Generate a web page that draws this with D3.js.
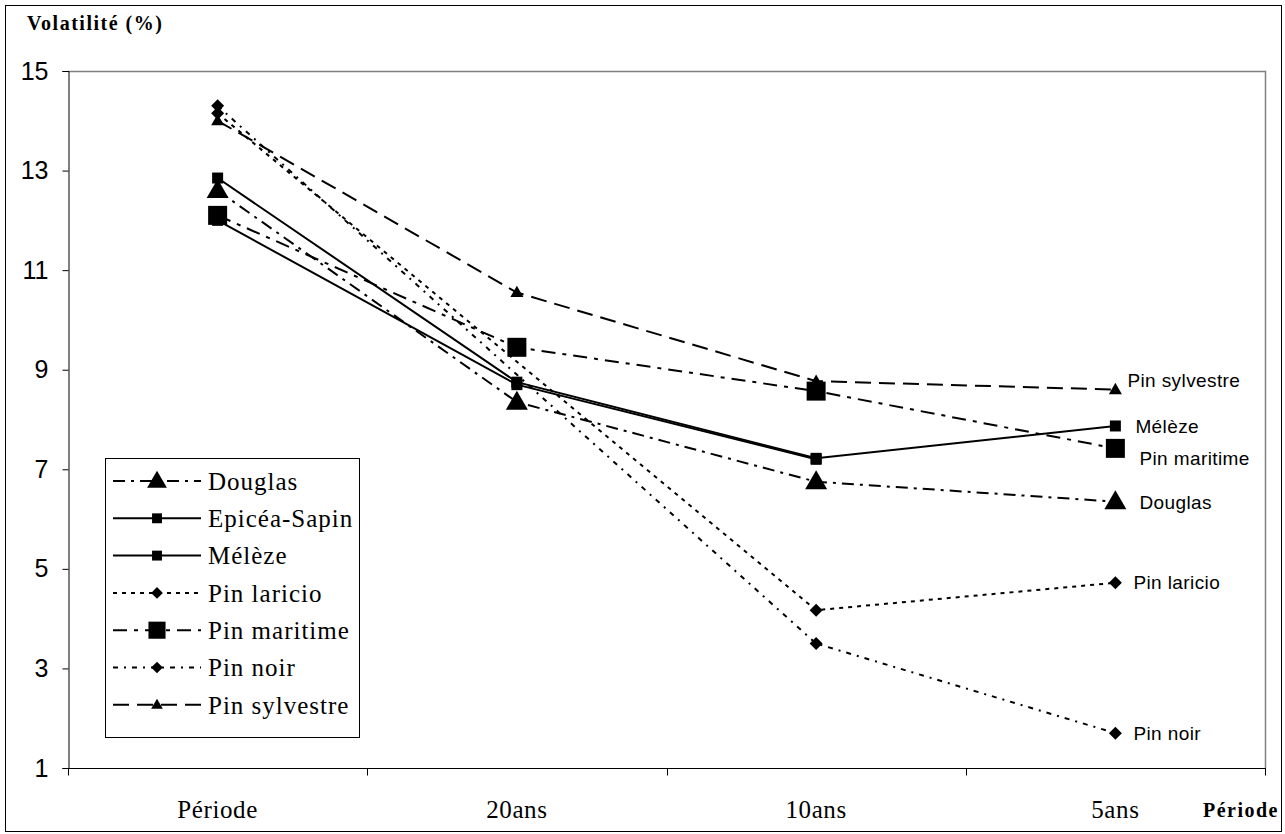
<!DOCTYPE html>
<html>
<head>
<meta charset="utf-8">
<script src="https://cdn.jsdelivr.net/npm/d3@7"></script>
<style>
  body { margin: 0; background: #fff; }
  svg { display: block; }
</style>
</head>
<body>
<svg id="chart" width="1285" height="834"></svg>
<script>
// periods on the x axis
var periods = ['Période', '20ans', '10ans', '5ans'];
var yTicks = [1, 3, 5, 7, 9, 11, 13, 15];

// volatility values (%) per species, null = no point
var douglas      = [12.6, 8.35, 6.75, 6.35];
var epiceaSapin  = [12.0, 8.7, 7.2, null];
var meleze       = [12.85, 8.75, 7.22, 7.87];
var pinLaricio   = [14.15, null, 4.17, 4.72];
var pinMaritime  = [12.1, 9.45, 8.57, 7.42];
var pinNoir      = [14.3, null, 3.5, 1.7];
var pinSylvestre = [14.0, 10.55, 8.77, 8.6];

var seriesNames = ['Douglas', 'Epicéa-Sapin', 'Mélèze', 'Pin laricio', 'Pin maritime', 'Pin noir', 'Pin sylvestre'];
var seriesValues = [douglas, epiceaSapin, meleze, pinLaricio, pinMaritime, pinNoir, pinSylvestre];
var endLabels = ['Douglas', null, 'Mélèze', 'Pin laricio', 'Pin maritime', 'Pin noir', 'Pin sylvestre'];

// look of each series (dash, marker shape, marker size, end label offset)
var styles = [
  { dash: '12,6,3,6', shape: 'triangle', size: 22, lx: 24, ly: 1 },
  { dash: null,       shape: 'square',   size: 11, lx: 0,  ly: 0 },
  { dash: null,       shape: 'square',   size: 11, lx: 20, ly: 0 },
  { dash: '4,5',      shape: 'diamond',  size: 13, lx: 18, ly: 0 },
  { dash: '14,7,4,7', shape: 'square',   size: 19, lx: 24, ly: 10 },
  { dash: '5,6,2,6',  shape: 'diamond',  size: 13, lx: 18, ly: 0 },
  { dash: '16,8',     shape: 'triangle', size: 13, lx: 12, ly: -9 }
];

var serif = '"Liberation Serif", "Times New Roman", serif';
var sans = '"Liberation Sans", Arial, sans-serif';

var svg = d3.select('#chart');
var plotL = 68, plotR = 1265, plotT = 71, plotB = 768;

var x = d3.scalePoint().domain(periods).range([plotL, plotR]).padding(0.5);
var xBand = d3.scaleBand().domain(periods).range([plotL, plotR]);
var y = d3.scaleLinear().domain([1, 15]).range([plotB, plotT]);

// outer frame
svg.append('rect')
  .attr('x', 5.5).attr('y', 5.5).attr('width', 1276).attr('height', 826)
  .attr('fill', 'none').attr('stroke', '#000').attr('stroke-width', 1);

// plot area border (top and right grey)
svg.append('path')
  .attr('d', 'M' + plotL + ',' + (plotT + 0.5) + 'H' + (plotR + 0.5) + 'V' + plotB)
  .attr('fill', 'none').attr('stroke', '#808080').attr('stroke-width', 1.5);

// y axis
var yAxis = svg.append('g')
  .attr('transform', 'translate(' + (plotL + 0.5) + ',0)')
  .call(d3.axisLeft(y).tickValues(yTicks).tickSize(6).tickPadding(14));
yAxis.selectAll('text')
  .attr('font-family', sans)
  .attr('font-size', 25).attr('fill', '#000');
yAxis.selectAll('line, path').attr('stroke', '#000');

// x axis: ticks at band boundaries, labels at centres
var xAxis = svg.append('g').attr('transform', 'translate(0,' + (plotB + 0.5) + ')');
xAxis.append('line').attr('x1', plotL).attr('x2', plotR + 1).attr('stroke', '#000');
var edges = periods.map(function(p) { return xBand(p); }).concat([plotR]);
xAxis.selectAll('.tk').data(edges).enter().append('line')
  .attr('x1', function(d) { return Math.round(d) + 0.5; })
  .attr('x2', function(d) { return Math.round(d) + 0.5; })
  .attr('y1', 0).attr('y2', 7).attr('stroke', '#000');
xAxis.selectAll('.lb').data(periods).enter().append('text')
  .attr('x', function(d) { return x(d); })
  .attr('y', 49)
  .attr('text-anchor', 'middle')
  .attr('font-family', serif)
  .attr('font-size', 25)
  .attr('letter-spacing', 0.6)
  .text(function(d) { return d; });

// axis titles
svg.append('text').attr('x', 27).attr('y', 30)
  .attr('font-family', serif)
  .attr('font-size', 20).attr('font-weight', 'bold')
  .attr('letter-spacing', 1.5)
  .text('Volatilité (%)');
svg.append('text').attr('x', 1279).attr('y', 817).attr('text-anchor', 'end')
  .attr('font-family', serif)
  .attr('font-size', 20).attr('font-weight', 'bold')
  .attr('letter-spacing', 1.5)
  .text('Période');

function markerPath(shape, size) {
  if (shape === 'triangle') {
    var h = size * Math.sqrt(3) / 2;
    return 'M0,' + (-h * 0.6) + 'L' + (size / 2) + ',' + (h * 0.4) + 'L' + (-size / 2) + ',' + (h * 0.4) + 'Z';
  }
  if (shape === 'diamond') {
    var r = size / 2;
    return 'M0,' + (-r) + 'L' + r + ',0L0,' + r + 'L' + (-r) + ',0Z';
  }
  var s = size / 2;
  return 'M' + (-s) + ',' + (-s) + 'H' + s + 'V' + s + 'H' + (-s) + 'Z';
}

var line = d3.line()
  .x(function(d) { return x(d.p); })
  .y(function(d) { return y(d.v); });

var series = seriesNames.map(function(name, i) {
  var pts = periods.map(function(p, j) { return { p: p, v: seriesValues[i][j] }; })
    .filter(function(d) { return d.v != null; });
  return { name: name, pts: pts, style: styles[i], label: endLabels[i] };
});

var g = svg.append('g');
series.forEach(function(s) {
  g.append('path')
    .attr('d', line(s.pts))
    .attr('fill', 'none').attr('stroke', '#000').attr('stroke-width', 2)
    .attr('stroke-dasharray', s.style.dash);
});
series.forEach(function(s) {
  g.selectAll(null).data(s.pts).enter().append('path')
    .attr('transform', function(d) { return 'translate(' + x(d.p) + ',' + y(d.v) + ')'; })
    .attr('d', markerPath(s.style.shape, s.style.size))
    .attr('fill', '#000');
  if (s.label) {
    var last = s.pts[s.pts.length - 1];
    g.append('text')
      .attr('x', x(last.p) + s.style.lx)
      .attr('y', y(last.v) + s.style.ly)
      .attr('dy', '0.35em')
      .attr('font-family', sans)
      .attr('font-size', 19)
      .attr('letter-spacing', 0.4)
      .text(s.label);
  }
});

// legend
var lg = svg.append('g').attr('transform', 'translate(105,458)');
lg.append('rect').attr('x', 0.5).attr('y', 0.5).attr('width', 254).attr('height', 279)
  .attr('fill', '#fff').attr('stroke', '#000');
series.forEach(function(s, i) {
  var cy = 23 + i * 37.3;
  lg.append('line').attr('x1', 8).attr('x2', 96).attr('y1', cy).attr('y2', cy)
    .attr('stroke', '#000').attr('stroke-width', 2)
    .attr('stroke-dasharray', s.style.dash);
  lg.append('path')
    .attr('transform', 'translate(52,' + cy + ')')
    .attr('d', markerPath(s.style.shape, s.style.size * 0.9))
    .attr('fill', '#000');
  lg.append('text').attr('x', 103).attr('y', cy).attr('dy', '0.35em')
    .attr('font-family', serif)
    .attr('font-size', 25)
    .attr('letter-spacing', 1)
    .text(s.name);
});
</script>
</body>
</html>
